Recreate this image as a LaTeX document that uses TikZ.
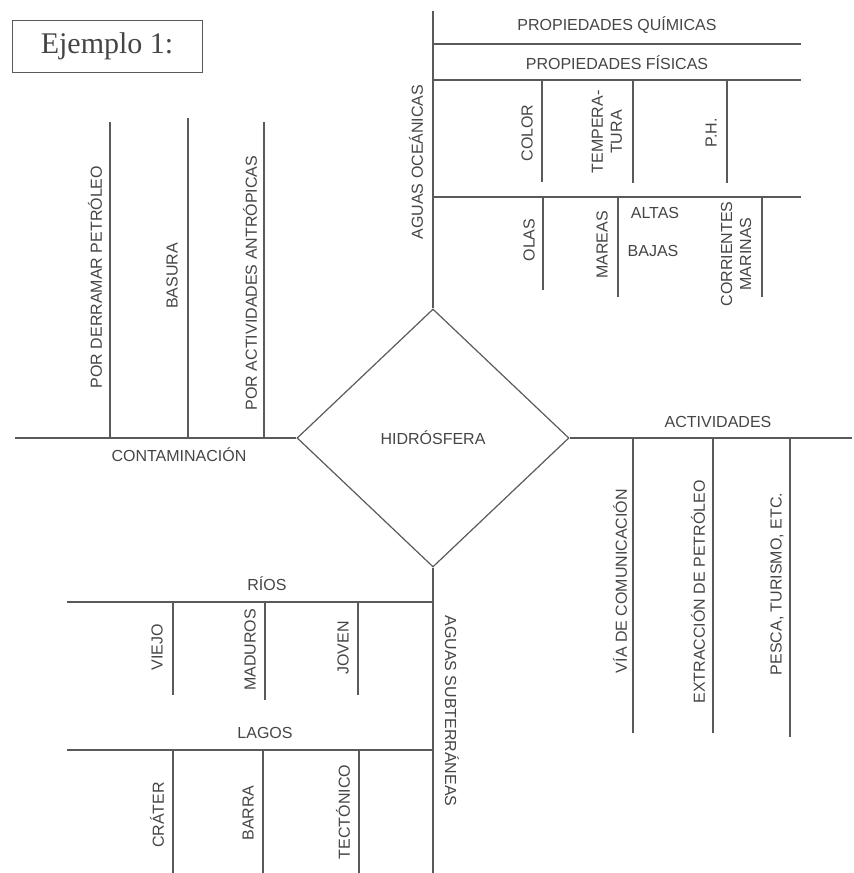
\documentclass[tikz,border=0pt]{standalone}
\usepackage{fontspec}
\setmainfont{Liberation Sans}
\newfontfamily\titlefont{Liberation Serif}
\usetikzlibrary{shapes.geometric}
\definecolor{ink}{HTML}{5A5A5A}
\definecolor{txt}{HTML}{454545}
\begin{document}
\begin{tikzpicture}[x=1pt,y=-1pt,
  line/.style={draw=ink, line width=1.2pt},
  lbl/.style={text=txt, font=\fontsize{16}{19}\selectfont, inner sep=0pt, align=center},
  up/.style={lbl, rotate=90},
  down/.style={lbl, rotate=-90}]
\useasboundingbox (0,0) rectangle (854,873);

% title box
\node[draw=ink, line width=1pt, minimum width=190pt, minimum height=52pt,
      text=txt, font=\titlefont\fontsize{30}{32}\selectfont] (title) at (107,46) {Ejemplo 1:};

% central diamond
\node[diamond, draw=ink, line width=1.2pt, minimum width=272pt, minimum height=258pt,
      inner sep=0pt, text=txt, font=\fontsize{16}{19}\selectfont] (hidro) at (433,438) {HIDRÓSFERA};

% ---------- upper branch: aguas oceánicas ----------
\coordinate (ocTop) at (433,11);
\coordinate (qL) at (433,44);  \coordinate (qR) at (801,44);
\coordinate (fL) at (433,80);  \coordinate (fR) at (801,80);
\coordinate (mL) at (433,197); \coordinate (mR) at (801,197);
\coordinate (c1a) at (542,80);  \coordinate (c1b) at (542,182);
\coordinate (c2a) at (633,80);  \coordinate (c2b) at (633,183);
\coordinate (c3a) at (727,80);  \coordinate (c3b) at (727,183);
\coordinate (d1a) at (543,197); \coordinate (d1b) at (543,290);
\coordinate (d2a) at (618,197); \coordinate (d2b) at (618,297);
\coordinate (d3a) at (762,197); \coordinate (d3b) at (762,297);

\draw[line] (hidro.north) -- (ocTop);
\draw[line] (qL) -- (qR);
\draw[line] (fL) -- (fR);
\draw[line] (mL) -- (mR);
\draw[line] (c1a) -- (c1b);
\draw[line] (c2a) -- (c2b);
\draw[line] (c3a) -- (c3b);
\draw[line] (d1a) -- (d1b);
\draw[line] (d2a) -- (d2b);
\draw[line] (d3a) -- (d3b);

\node[lbl] (quim) at (617,25) {PROPIEDADES QUÍMICAS};
\node[lbl] (fis)  at (617,63) {PROPIEDADES FÍSICAS};
\node[up] (ocean) at (416,162) {AGUAS OCEÁNICAS};
\node[up] (color) at (527,133) {COLOR};
\node[up] (temp)  at (607,132) {TEMPERA-\\TURA};
\node[up] (ph)    at (711,133) {P.H.};
\node[up] (olas)  at (529,240) {OLAS};
\node[up] (mareas) at (602,245) {MAREAS};
\node[lbl] (altas) at (655,213) {ALTAS};
\node[lbl] (bajas) at (653,251) {BAJAS};
\node[up] (corr) at (736,254) {CORRIENTES\\MARINAS};

% ---------- left branch: contaminación ----------
\coordinate (cL) at (15,438);
\coordinate (e1a) at (110,438); \coordinate (e1b) at (110,122);
\coordinate (e2a) at (188,438); \coordinate (e2b) at (188,118);
\coordinate (e3a) at (264,438); \coordinate (e3b) at (264,122);
\draw[line] (hidro.west) -- (cL);
\draw[line] (e1a) -- (e1b);
\draw[line] (e2a) -- (e2b);
\draw[line] (e3a) -- (e3b);

\node[up] (derr)  at (95,277)  {POR DERRAMAR PETRÓLEO};
\node[up] (bas)   at (172,276) {BASURA};
\node[up] (antro) at (250,283) {POR ACTIVIDADES ANTRÓPICAS};
\node[lbl] (conta) at (179,455) {CONTAMINACIÓN};

% ---------- right branch: actividades ----------
\coordinate (aR) at (852,438);
\coordinate (g1a) at (633,438); \coordinate (g1b) at (633,733);
\coordinate (g2a) at (713,438); \coordinate (g2b) at (713,733);
\coordinate (g3a) at (790,438); \coordinate (g3b) at (790,737);
\draw[line] (hidro.east) -- (aR);
\draw[line] (g1a) -- (g1b);
\draw[line] (g2a) -- (g2b);
\draw[line] (g3a) -- (g3b);

\node[lbl] (activ) at (718,422) {ACTIVIDADES};
\node[up] (via)   at (620,581) {VÍA DE COMUNICACIÓN};
\node[up] (extr)  at (698,592) {EXTRACCIÓN DE PETRÓLEO};
\node[up] (pesca) at (777,584) {PESCA, TURISMO, ETC.};

% ---------- lower branch: aguas subterráneas ----------
\coordinate (sBot) at (433,873);
\coordinate (rL) at (67,602);  \coordinate (rR) at (433,602);
\coordinate (lL) at (67,750);  \coordinate (lR) at (433,750);
\coordinate (h1a) at (173,602); \coordinate (h1b) at (173,695);
\coordinate (h2a) at (265,602); \coordinate (h2b) at (265,700);
\coordinate (h3a) at (358,602); \coordinate (h3b) at (358,695);
\coordinate (k1a) at (173,750); \coordinate (k1b) at (173,873);
\coordinate (k2a) at (263,750); \coordinate (k2b) at (263,873);
\coordinate (k3a) at (359,750); \coordinate (k3b) at (359,873);
\draw[line] (hidro.south) -- (sBot);
\draw[line] (rL) -- (rR);
\draw[line] (lL) -- (lR);
\draw[line] (h1a) -- (h1b);
\draw[line] (h2a) -- (h2b);
\draw[line] (h3a) -- (h3b);
\draw[line] (k1a) -- (k1b);
\draw[line] (k2a) -- (k2b);
\draw[line] (k3a) -- (k3b);

\node[lbl] (rios)  at (267,584) {RÍOS};
\node[up] (viejo)  at (157,647) {VIEJO};
\node[up] (mad)    at (250,650) {MADUROS};
\node[up] (joven)  at (343,648) {JOVEN};
\node[lbl] (lagos) at (265,733) {LAGOS};
\node[up] (crater) at (157,815) {CRÁTER};
\node[up] (barra)  at (248,813) {BARRA};
\node[up] (tecto)  at (343,812) {TECTÓNICO};
\node[down] (subt) at (452,711) {AGUAS SUBTERRÁNEAS};
\end{tikzpicture}
\end{document}
